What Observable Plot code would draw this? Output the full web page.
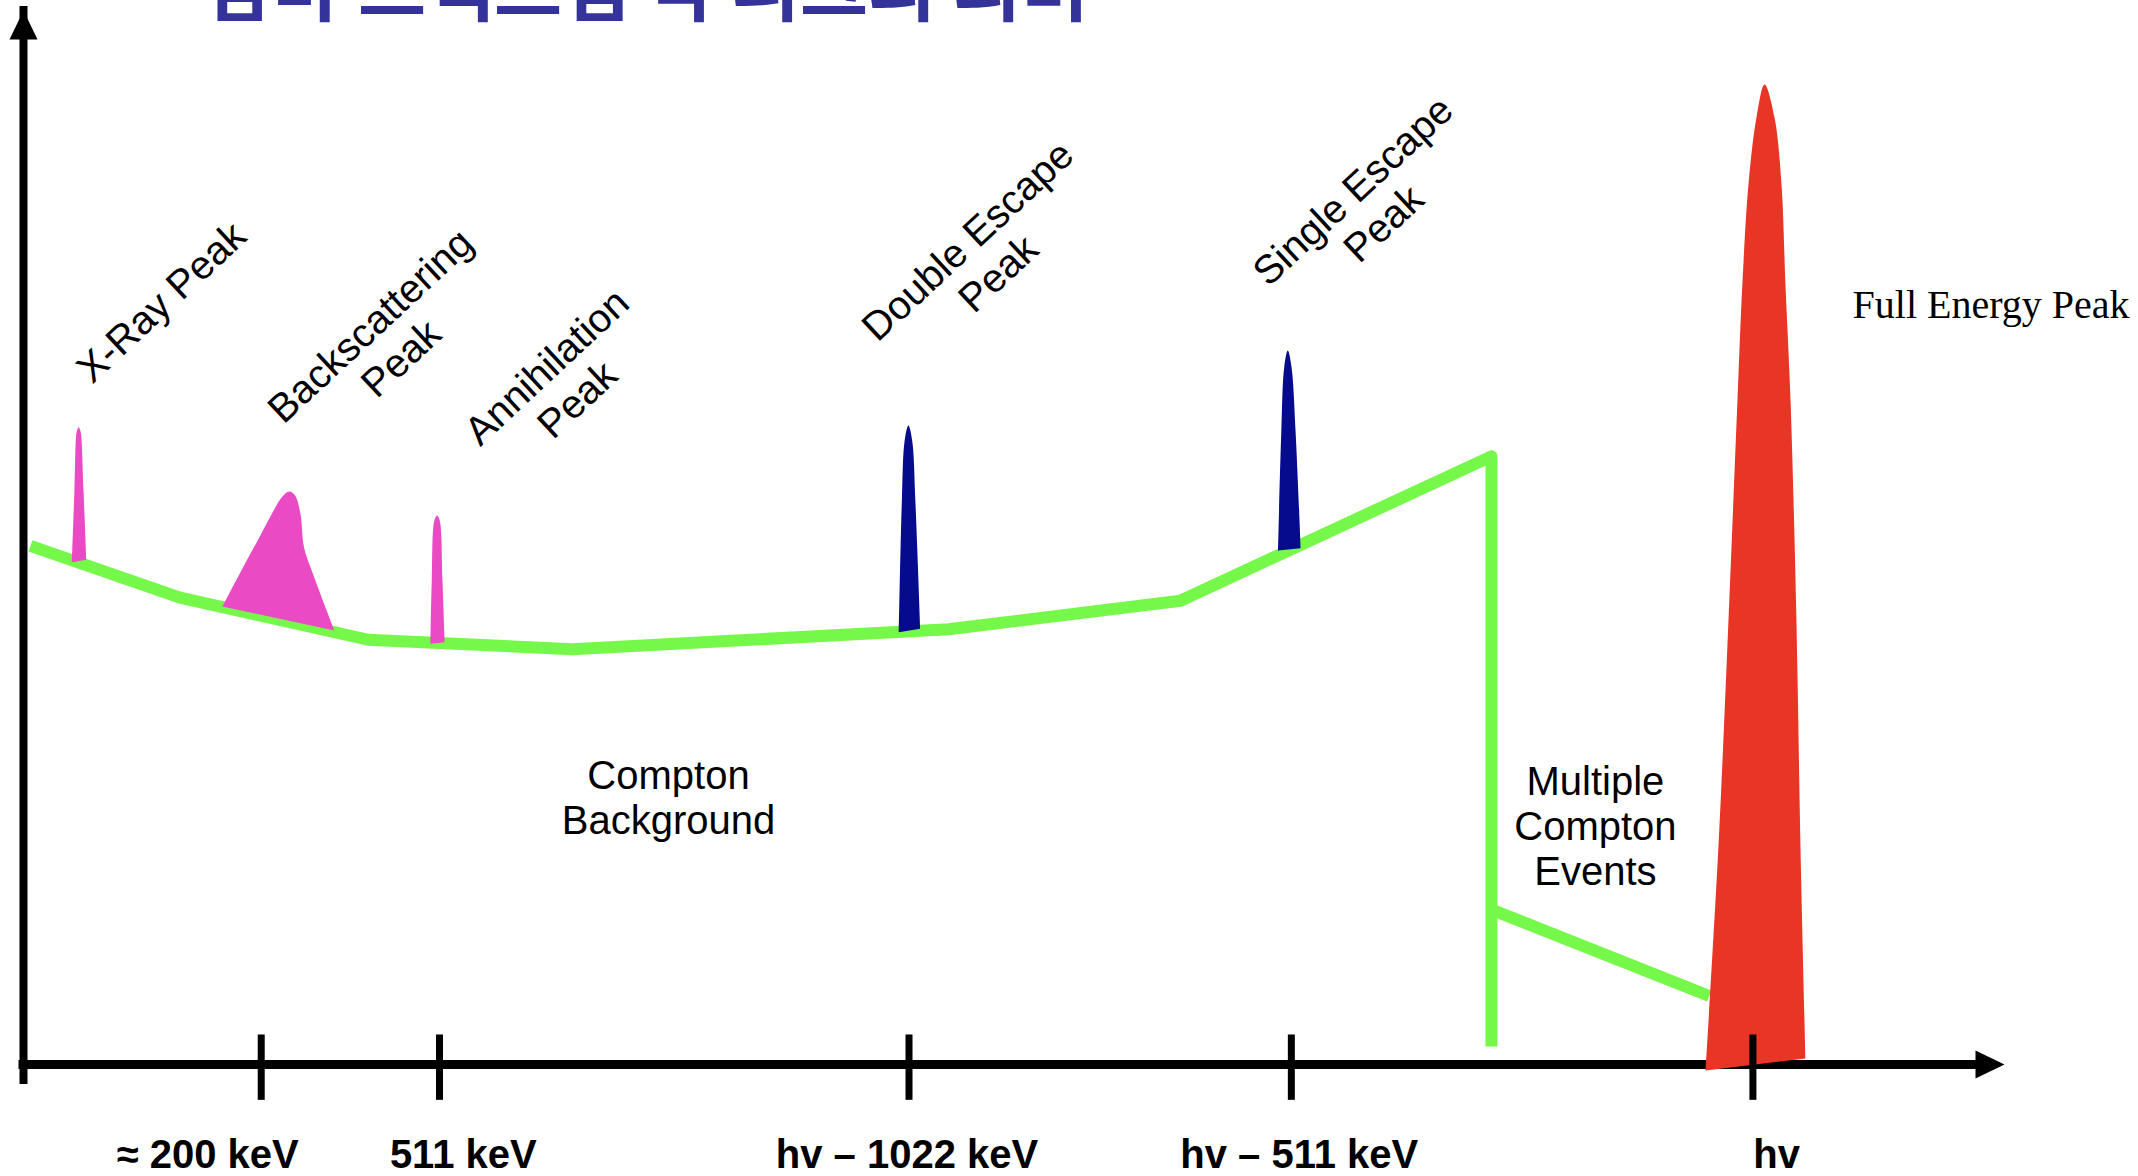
<!DOCTYPE html>
<html>
<head>
<meta charset="utf-8">
<script src="https://cdn.jsdelivr.net/npm/d3@7"></script>
<script src="https://cdn.jsdelivr.net/npm/@observablehq/plot@0.6"></script>
<style>
  html, body { margin: 0; padding: 0; background: #fff; overflow: hidden; }
  #wrap { position: relative; width: 2138px; height: 1176px; }
  #title { position: absolute; left: 205px; top: -54px; font-family: "Noto Sans CJK KR", sans-serif; font-weight: bold; font-size: 74px; line-height: 74px; color: #333399; white-space: nowrap; z-index: 2; }
</style>
</head>
<body>
<div id="wrap">
  <div id="title">감마 스펙트럼 각 피크의 의미</div>
  <div id="chart"></div>
</div>
<script>
// ---- Data (channel units on x, counts on y) ----
const tickPos = [120, 210, 447, 640, 873];
const tickLabels = ["≈ 200 keV", "511 keV", "hv – 1022 keV", "hv – 511 keV", "hv"];
const labelPos = [93, 222, 446, 644, 885];

const comptonX = [3.5, 79, 174, 277, 467, 584, 741, 741];
const comptonY = [492, 443, 403, 394, 413, 440, 577, 17];
const multiX = [741, 851];
const multiY = [147, 65];

const xrayX = [24.4, 25.7, 26.7, 27.3, 27.8, 28.4, 29.0, 30.3, 31.7];
const xrayY = [476.6, 544.6, 598.7, 602.9, 604.6, 602.9, 598.7, 544.6, 478.8];
const backX = [100.4, 110.0, 119.1, 125.8, 130.4, 134.2, 137.1, 139.8, 141.6, 146.1, 156.9];
const backY = [434.5, 468.7, 500.3, 524.0, 538.2, 543.6, 539.8, 522.5, 490.8, 465.6, 411.8];
const annX = [205.4, 206.1, 207.4, 208.8, 210.1, 211.5, 212.6];
const annY = [399.1, 459.2, 516.1, 520.9, 516.1, 459.2, 400.7];
const dblX = [441.9, 443.4, 444.8, 446.7, 448.6, 450.2, 452.7];
const dblY = [410.2, 535.1, 592.0, 606.3, 592.0, 535.1, 413.4];
const sglX = [633.3, 634.9, 636.4, 638.2, 640.1, 642.2, 644.7];
const sglY = [487.7, 598.4, 661.6, 677.4, 661.6, 598.4, 489.9];
const fullX = [849.1, 855.6, 860.6, 865.2, 867.7, 870.8, 874.8, 878.9, 883.9, 887.4, 889.4, 892.0, 895.0, 897.0, 899.5];
const fullY = [-5.7, 206.8, 418.4, 630, 741, 835.9, 898.5, 929.8, 898.5, 835.9, 741, 630, 418.4, 206.8, 5.7];

const annotText = ["X-Ray Peak", "Backscattering\nPeak", "Annihilation\nPeak", "Double Escape\nPeak", "Single Escape\nPeak"];
const annotX = [69.2, 182.5, 271.5, 484, 678.5];
const annotY = [723.9, 686, 647, 766.6, 814];

const regionText = ["Compton\nBackground", "Multiple\nCompton\nEvents"];
const regionX = [325.6, 793.5];
const regionY = [253.3, 226.8];

const fullLabel = ["Full Energy Peak"];
const fullLabelX = [923.3];
const fullLabelY = [708.5];

// ---- helpers ----
const pts = (xs, ys) => xs.map((x, i) => ({x, y: ys[i]}));
const GREEN = "#75f84a", PINK = "#ea4bc5", NAVY = "#060b8d", RED = "#e83526";
const SANS = "'Liberation Sans', Arial, Helvetica, sans-serif";
const arrowHead = { draw(ctx) { ctx.moveTo(0, 0); ctx.lineTo(14, 29); ctx.lineTo(-14, 29); ctx.closePath(); } };

const peak = (xs, ys, color) => Plot.line(pts(xs, ys), {x: "x", y: "y", fill: color, stroke: "none", curve: "catmull-rom"});

const chart = Plot.plot({
  width: 2138,
  height: 1176,
  marginLeft: 23,
  marginRight: 134,
  marginTop: 10,
  marginBottom: 112,
  x: {domain: [0, 1000], axis: null},
  y: {domain: [0, 1000], axis: null},
  style: {background: "transparent", overflow: "visible"},
  marks: [
    // axes
    Plot.ruleY([0], {x1: 0, x2: 1000, stroke: "black", strokeWidth: 9, strokeLinecap: "square", insetRight: 16}),
    Plot.ruleX([0], {y1: 0, y2: 1000, stroke: "black", strokeWidth: 8, strokeLinecap: "square", insetTop: 16}),
    Plot.dot([{x: 0, y: 1000}], {x: "x", y: "y", symbol: arrowHead, fill: "black", stroke: "none"}),
    Plot.dot([{x: 1000, y: 0}], {x: "x", y: "y", symbol: arrowHead, fill: "black", stroke: "none", rotate: 90}),
    // Compton continuum
    Plot.line(pts(comptonX, comptonY), {x: "x", y: "y", stroke: GREEN, strokeWidth: 12, strokeLinejoin: "round", strokeLinecap: "butt"}),
    Plot.line(pts(multiX, multiY), {x: "x", y: "y", stroke: GREEN, strokeWidth: 12, strokeLinecap: "butt"}),
    // peaks
    peak(xrayX, xrayY, PINK),
    peak(backX, backY, PINK),
    peak(annX, annY, PINK),
    peak(dblX, dblY, NAVY),
    peak(sglX, sglY, NAVY),
    peak(fullX, fullY, RED),
    // ticks
    Plot.ruleX(tickPos, {x: d => d, y1: -34, y2: 28, stroke: "black", strokeWidth: 7}),
    Plot.text(tickLabels, {x: (d, i) => labelPos[i], y: () => -98, text: d => d, lineAnchor: "bottom", textAnchor: "middle",
      fontSize: 40, fontWeight: "bold", fontFamily: SANS, fill: "black"}),
    // annotations
    Plot.text(annotText, {x: (d, i) => annotX[i], y: (d, i) => annotY[i], text: d => d, rotate: -43,
      textAnchor: "middle", lineAnchor: "middle", lineHeight: 1.12, fontSize: 40, fontFamily: SANS, fill: "black"}),
    Plot.text(regionText, {x: (d, i) => regionX[i], y: (d, i) => regionY[i], text: d => d,
      textAnchor: "middle", lineAnchor: "middle", lineHeight: 1.12, fontSize: 40, fontFamily: SANS, fill: "black"}),
    Plot.text(fullLabel, {x: (d, i) => fullLabelX[i], y: (d, i) => fullLabelY[i], text: d => d,
      textAnchor: "start", lineAnchor: "bottom", fontSize: 40, fontFamily: "'Liberation Serif', 'Times New Roman', serif", fill: "black"})
  ]
});
document.getElementById("chart").appendChild(chart);
</script>
</body>
</html>
